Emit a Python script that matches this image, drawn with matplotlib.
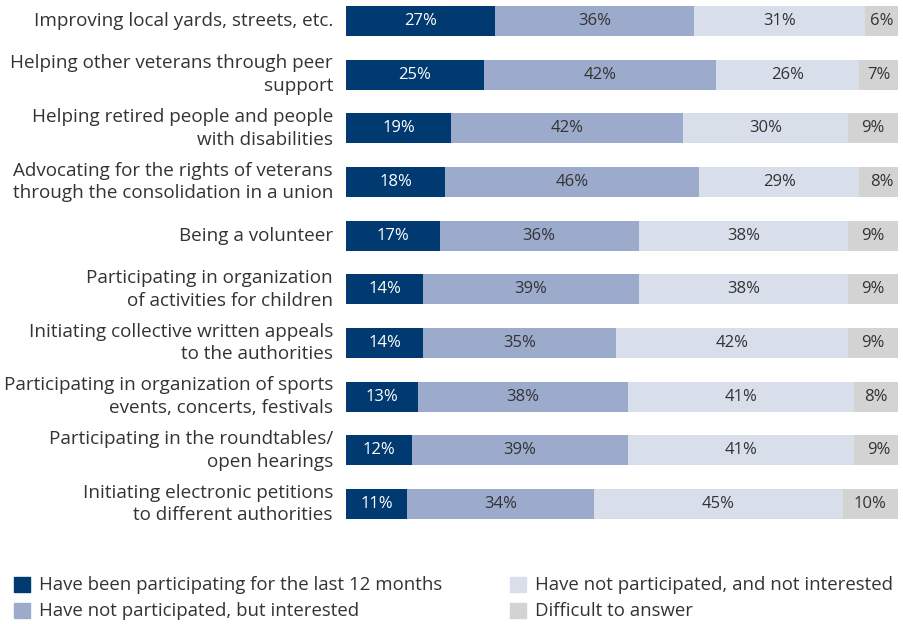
import matplotlib
matplotlib.use("Agg")
import matplotlib.pyplot as plt
from matplotlib.patches import Rectangle
import numpy as np

plt.rcParams['font.family'] = ['Open Sans', 'DejaVu Sans']

categories = [
    "Improving local yards, streets, etc.",
    "Helping other veterans through peer\nsupport",
    "Helping retired people and people\nwith disabilities",
    "Advocating for the rights of veterans\nthrough the consolidation in a union",
    "Being a volunteer",
    "Participating in organization\nof activities for children",
    "Initiating collective written appeals\nto the authorities",
    "Participating in organization of sports\nevents, concerts, festivals",
    "Participating in the roundtables/\nopen hearings",
    "Initiating electronic petitions\nto different authorities",
]

participating = [27, 25, 19, 18, 17, 14, 14, 13, 12, 11]
interested = [36, 42, 42, 46, 36, 39, 35, 38, 39, 34]
not_interested = [31, 26, 30, 29, 38, 38, 42, 41, 41, 45]
difficult = [6, 7, 9, 8, 9, 9, 9, 8, 9, 10]

series_names = [
    "Have been participating for the last 12 months",
    "Have not participated, but interested",
    "Have not participated, and not interested",
    "Difficult to answer",
]
colors = ["#003a70", "#9caacb", "#d9deeb", "#d3d3d3"]
text_colors = ["white", "#333333", "#333333", "#333333"]

W, H = 904, 624
fig = plt.figure(figsize=(W / 100, H / 100), dpi=100)
ax = fig.add_axes([346 / W, 1 - 519 / H, 552 / W, 513 / H])

y = np.arange(len(categories))
bar_h = 0.56
left = np.zeros(len(categories))
for vals, col, tcol in zip([participating, interested, not_interested, difficult],
                           colors, text_colors):
    vals = np.array(vals, dtype=float)
    ax.barh(y, vals, left=left, height=bar_h, color=col, edgecolor="none")
    for yi, l, v in zip(y, left, vals):
        ax.text(l + v / 2, yi, f"{int(v)}%", ha="center", va="center",
                color=tcol, fontsize=12)
    left += vals

ax.set_xlim(0, 100)
ax.set_ylim(len(categories) - 1 + bar_h / 2, -bar_h / 2)
ax.axis("off")

for yi, cat in zip(y, categories):
    ax.text(-13 / 552 * 100, yi, cat, ha="right", va="center",
            fontsize=13.6, color="#333333", linespacing=1.35)

# legend
legend_pos = [(14, 577), (14, 603), (510, 577), (510, 603)]
for (px, py), name, col in zip(legend_pos, series_names, colors):
    fig.patches.append(Rectangle((px / W, 1 - (py + 15) / H), 16 / W, 15 / H,
                                 transform=fig.transFigure, color=col))
    fig.text((px + 25) / W, 1 - (py + 7.5) / H, name, ha="left", va="center",
             fontsize=13.4, color="#333333")

fig.savefig("out.png", dpi=100)
